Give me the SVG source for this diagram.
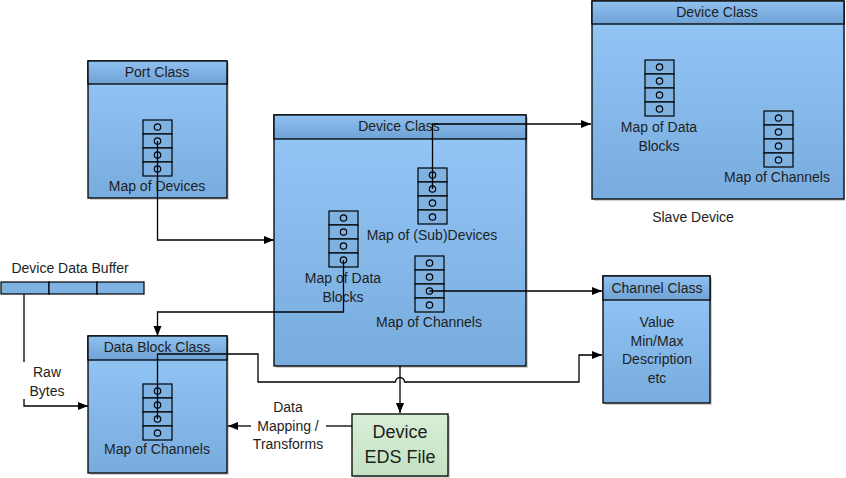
<svg xmlns="http://www.w3.org/2000/svg" xmlns:xlink="http://www.w3.org/1999/xlink" width="846" height="478" viewBox="0 0 846 478">
<defs>
<linearGradient id="gBody" x1="0" y1="0" x2="0" y2="1"><stop offset="0" stop-color="#95c8f7"/><stop offset="1" stop-color="#78acde"/></linearGradient>
<linearGradient id="gHead" x1="0" y1="0" x2="0" y2="1"><stop offset="0" stop-color="#8fc1f0"/><stop offset="1" stop-color="#6fa2d5"/></linearGradient>
<linearGradient id="gGreen" x1="0" y1="0" x2="0" y2="1"><stop offset="0" stop-color="#d8eed7"/><stop offset="1" stop-color="#c3e2c2"/></linearGradient>
<marker id="arr" markerUnits="userSpaceOnUse" markerWidth="11" markerHeight="9" refX="10" refY="4" orient="auto"><path d="M0,0 L10,4 L0,8 z" fill="#000"/></marker>
<g id="stack">
<rect x="0" y="0" width="29" height="14"/><rect x="0" y="14" width="29" height="14"/><rect x="0" y="28" width="29" height="14"/><rect x="0" y="42" width="29" height="14"/>
<circle cx="14.5" cy="7" r="3.2" fill="none"/><circle cx="14.5" cy="21" r="3.2" fill="none"/><circle cx="14.5" cy="35" r="3.2" fill="none"/><circle cx="14.5" cy="49" r="3.2" fill="none"/>
</g>
</defs>
<style>
.shadow{fill:#9a9a9a;opacity:0.45}
.body{fill:url(#gBody);stroke:#000;stroke-width:1.3}
.head{fill:url(#gHead);stroke:#000;stroke-width:1.3}
.stk{fill:#7fb1e1;stroke:#000;stroke-width:1.2}
.stk circle{fill:none;stroke:#1a1a1a;stroke-width:1}
text{font-family:"Liberation Sans",Arial,sans-serif;font-size:14px;fill:#1e1e1e;text-anchor:middle}
.big{font-size:18px}
.conn path{fill:none;stroke:#000;stroke-width:1.3}
</style>

<g id="port-class">
<rect class="shadow" x="90" y="63" width="139" height="137"/>
<rect class="body" x="88" y="61" width="139" height="137"/>
<rect class="head" x="88" y="61" width="139" height="23"/>
<text x="157" y="77">Port Class</text>
<use xlink:href="#stack" class="stk" x="143" y="120"/>
<text x="157" y="191">Map of Devices</text>
</g>

<g id="device-class">
<rect class="shadow" x="276" y="117" width="252" height="251"/>
<rect class="body" x="274" y="115" width="252" height="251"/>
<rect class="head" x="274" y="115" width="252" height="24"/>
<text x="399" y="131">Device Class</text>
<use xlink:href="#stack" class="stk" x="418" y="168"/>
<text x="432" y="240">Map of (Sub)Devices</text>
<use xlink:href="#stack" class="stk" x="329" y="211"/>
<text x="343" y="283">Map of Data</text>
<text x="343" y="302">Blocks</text>
<use xlink:href="#stack" class="stk" x="415" y="256"/>
<text x="429" y="327">Map of Channels</text>
</g>

<g id="slave-device-class">
<rect class="shadow" x="594" y="3" width="251" height="198"/>
<rect class="body" x="592" y="1" width="252" height="198"/>
<rect class="head" x="592" y="1" width="252" height="23"/>
<text x="717" y="17">Device Class</text>
<use xlink:href="#stack" class="stk" x="645" y="60"/>
<text x="659" y="132">Map of Data</text>
<text x="659" y="151">Blocks</text>
<use xlink:href="#stack" class="stk" x="764" y="111"/>
<text x="777" y="182">Map of Channels</text>
</g>
<g id="slave-device-label">
<text x="693" y="222">Slave Device</text>
</g>

<g id="device-data-buffer">
<text x="70" y="273">Device Data Buffer</text>
<rect class="stk" x="1" y="282" width="48" height="12"/>
<rect class="stk" x="49" y="282" width="48" height="12"/>
<rect class="stk" x="97" y="282" width="47" height="12"/>
</g>

<g id="data-block-class">
<rect class="shadow" x="90" y="338" width="139" height="137"/>
<rect class="body" x="88" y="336" width="139" height="137"/>
<rect class="head" x="88" y="336" width="139" height="24"/>
<text x="157" y="352">Data Block Class</text>
<use xlink:href="#stack" class="stk" x="143" y="384"/>
<text x="157" y="454">Map of Channels</text>
</g>

<g id="channel-class">
<rect class="shadow" x="605" y="278" width="107" height="127"/>
<rect class="body" x="603" y="276" width="107" height="127"/>
<rect class="head" x="603" y="276" width="107" height="24"/>
<text x="657" y="293">Channel Class</text>
<text x="657" y="327">Value</text>
<text x="657" y="346">Min/Max</text>
<text x="657" y="364">Description</text>
<text x="657" y="383">etc</text>
</g>

<g id="device-eds-file">
<rect class="shadow" x="354" y="416" width="96" height="62"/>
<rect x="352" y="414" width="96" height="62" fill="url(#gGreen)" stroke="#000" stroke-width="1.3"/>
<text class="big" x="400" y="438">Device</text>
<text class="big" x="400" y="463">EDS File</text>
</g>

<g id="connectors" class="conn">
<path d="M157.5,141 V240 H274" marker-end="url(#arr)"/>
<path d="M432.5,189 V124 H591" marker-end="url(#arr)"/>
<path d="M343.5,260 V312 H157.5 V336" marker-end="url(#arr)"/>
<path d="M429.5,291 H602" marker-end="url(#arr)"/>
<path d="M157.5,419 V354 H258 V382 H395.5 A4.5,4.5 0 0 1 404.5,382 H579 V355 H602" marker-end="url(#arr)"/>
<path d="M400,366 V413" marker-end="url(#arr)"/>
<path d="M352,426 H326"/>
<path d="M251,426 H228" marker-end="url(#arr)"/>
<path d="M24,294 V362"/>
<path d="M24,399 V406 H88" marker-end="url(#arr)"/>
<text x="288" y="412">Data</text>
<text x="288" y="431">Mapping /</text>
<text x="288" y="449">Transforms</text>
<text x="47" y="377">Raw</text>
<text x="47" y="396">Bytes</text>
</g>
</svg>
